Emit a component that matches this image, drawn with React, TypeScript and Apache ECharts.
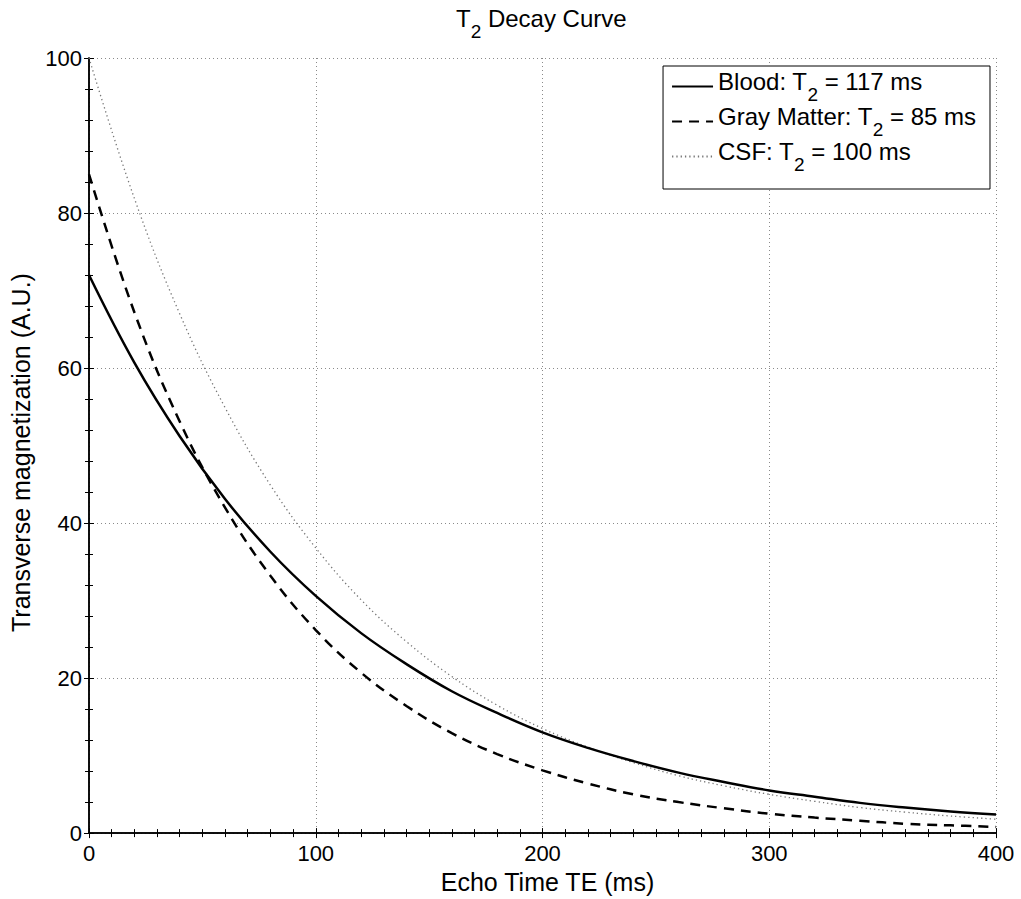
import React, { useEffect, useRef } from 'react';
import * as echarts from 'echarts';

const echoTimes = [0, 20, 40, 60, 80, 100, 120, 140, 160, 180, 200, 220, 240, 260, 280, 300, 320, 340, 360, 380, 400];
const bloodValues = [72, 60.7, 51.2, 43.1, 36.3, 30.6, 25.8, 21.8, 18.3, 15.5, 13.0, 11.0, 9.3, 7.8, 6.6, 5.5, 4.7, 3.9, 3.3, 2.8, 2.4];
const grayMatterValues = [85, 67.2, 53.1, 42.0, 33.2, 26.2, 20.7, 16.4, 12.9, 10.2, 8.1, 6.4, 5.0, 4.0, 3.2, 2.5, 2.0, 1.6, 1.2, 1.0, 0.8];
const csfValues = [100, 81.9, 67.0, 54.9, 44.9, 36.8, 30.1, 24.7, 20.2, 16.5, 13.5, 11.1, 9.1, 7.4, 6.1, 5.0, 4.1, 3.3, 2.7, 2.2, 1.8];

const legendLabels: Record<string, [string, string]> = {
  Blood: ['Blood: T', ' = 117 ms'],
  'Gray Matter': ['Gray Matter: T', ' = 85 ms'],
  CSF: ['CSF: T', ' = 100 ms'],
};

const FONT = '"Liberation Sans", Arial, Helvetica, sans-serif';

export default function App() {
  const ref = useRef<HTMLDivElement>(null);
  useEffect(() => {
    if (!ref.current) return;
    const chart = echarts.init(ref.current, null, { renderer: 'svg' });
    const pairs = (vals: number[]) => echoTimes.map((t, i) => [t, vals[i]]);
    const rich = {
      a: { fontSize: 24, fontFamily: FONT, color: '#000', fontWeight: 'normal', lineHeight: 26, padding: [0, 0, 10, 0] },
      s: { fontSize: 19, fontFamily: FONT, color: '#000', fontWeight: 'normal', lineHeight: 20, padding: [16, 0, 0, 0] },
    };
    const axisCommon = {
      min: 0,
      axisLine: { show: true, lineStyle: { color: '#000', width: 1.5 } },
      axisTick: { show: true, inside: true, length: 5, lineStyle: { color: '#000', width: 1 } },
      minorTick: { show: true, length: 4, lineStyle: { color: '#000', width: 1 } },
    };
    chart.setOption({
      animation: false,
      backgroundColor: '#fff',
      title: {
        text: '{a|T}{s|2}{a| Decay Curve}',
        left: 456,
        top: 10,
        padding: 0,
        textStyle: { rich, fontWeight: 'normal' },
      },
      grid: { left: 89, right: 25, top: 58, bottom: 63, containLabel: false },
      legend: {
        orient: 'vertical',
        right: 31,
        top: 66,
        backgroundColor: '#fff',
        borderColor: '#000',
        borderWidth: 1,
        borderRadius: 0,
        padding: [3, 14, 15, 8],
        itemGap: 0,
        itemWidth: 41,
        itemHeight: 14,
        itemStyle: { opacity: 0 },
        data: ['Blood', 'Gray Matter', 'CSF'],
        formatter: (name: string) => {
          const [p, q] = legendLabels[name];
          return `{a|${p}}{s|2}{a|${q}}`;
        },
        textStyle: { rich },
      },
      xAxis: [
        {
          ...axisCommon,
          type: 'value',
          max: 400,
          interval: 100,
          minorSplitLine: { show: false },
          minorTick: { ...axisCommon.minorTick, splitNumber: 10 },
          position: 'bottom',
          name: 'Echo Time TE (ms)',
          nameLocation: 'middle',
          nameGap: 33,
          nameTextStyle: { fontSize: 25, fontFamily: FONT, color: '#000', padding: [0, 0, 0, 10] },
          axisLabel: { fontSize: 22, fontFamily: FONT, color: '#000', margin: 9 },
          splitLine: { show: true, lineStyle: { color: '#8a8a8a', type: [1, 3], width: 1 } },
        },
        {
          ...axisCommon,
          type: 'value',
          max: 400,
          interval: 100,
          minorTick: { ...axisCommon.minorTick, splitNumber: 10 },
          position: 'top',
          axisLabel: { show: false },
          splitLine: { show: false },
        },
      ],
      yAxis: [
        {
          ...axisCommon,
          type: 'value',
          max: 100,
          interval: 20,
          minorTick: { ...axisCommon.minorTick, splitNumber: 5 },
          position: 'left',
          name: 'Transverse magnetization (A.U.)',
          nameLocation: 'middle',
          nameGap: 56,
          nameTextStyle: { fontSize: 25, fontFamily: FONT, color: '#000', padding: [0, 14, 0, 0] },
          axisLabel: { fontSize: 22, fontFamily: FONT, color: '#000', margin: 7 },
          splitLine: { show: true, lineStyle: { color: '#8a8a8a', type: [1, 3], width: 1 } },
        },
        {
          ...axisCommon,
          type: 'value',
          max: 100,
          interval: 20,
          minorTick: { ...axisCommon.minorTick, splitNumber: 5 },
          position: 'right',
          axisLabel: { show: false },
          splitLine: { show: false },
        },
      ],
      series: [
        {
          name: 'Blood',
          type: 'line',
          xAxisIndex: 0,
          yAxisIndex: 0,
          data: pairs(bloodValues),
          smooth: 0.4,
          symbol: 'none',
          lineStyle: { color: '#000', width: 2.5, type: 'solid' },
          itemStyle: { color: '#000' },
          z: 5,
        },
        {
          name: 'Gray Matter',
          type: 'line',
          xAxisIndex: 0,
          yAxisIndex: 0,
          data: pairs(grayMatterValues),
          smooth: 0.4,
          symbol: 'none',
          lineStyle: { color: '#000', width: 2.5, type: [10, 7] },
          itemStyle: { color: '#000' },
          z: 4,
        },
        {
          name: 'CSF',
          type: 'line',
          xAxisIndex: 0,
          yAxisIndex: 0,
          data: pairs(csfValues),
          smooth: 0.4,
          symbol: 'none',
          lineStyle: { color: '#777', width: 1.3, type: [1.3, 3] },
          itemStyle: { color: '#777' },
          z: 3,
        },
      ],
    });
    return () => chart.dispose();
  }, []);
  return <div ref={ref} style={{ position: 'fixed', left: 0, top: 0, width: 1021, height: 899 }} />;
}
